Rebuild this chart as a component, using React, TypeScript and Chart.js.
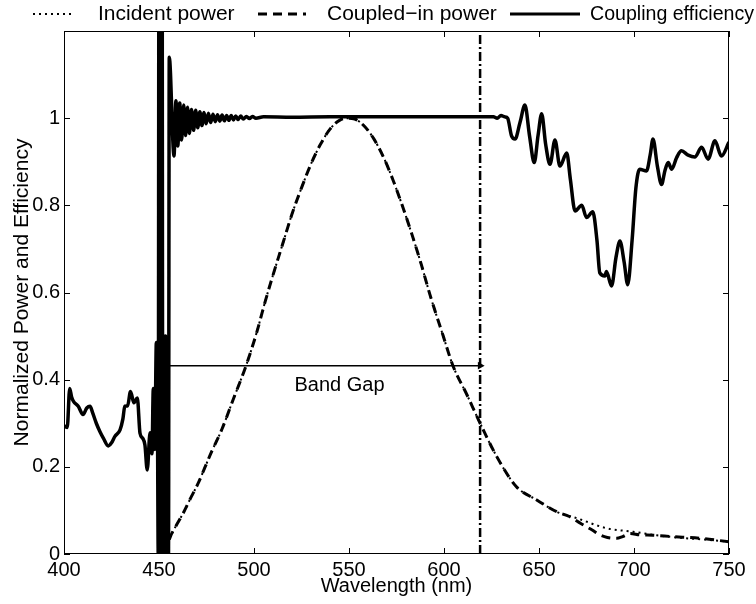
import React, { useEffect, useRef } from "react";
import { Chart, registerables } from "chart.js";

Chart.register(...registerables);

// ---------- axis settings ----------
const xMin = 400;
const xMax = 750;
const yMin = 0;
const yMax = 1.2;
const xTickValues = [400, 450, 500, 550, 600, 650, 700, 750];
const yTickValues = [0, 0.2, 0.4, 0.6, 0.8, 1];
const xTitle = "Wavelength (nm)";
const yTitle = "Normalized Power and Efficiency";

// ---------- legend ----------
const legendLabels = ["Incident power", "Coupled\u2212in power", "Coupling efficiency"];

// ---------- coupling efficiency (solid) ----------
const efficiencyWavelengths = [
  400, 400.5, 401.7, 403, 404, 405, 407.5, 410, 412, 413.7, 415, 417, 419, 420.7, 423.3, 425,
  426.8, 429.5, 431, 432, 433.5, 435, 436.8, 438.6, 440, 441.5, 442.6, 443.8, 445.3, 446.3,
  447, 447.8, 448.6, 449.2, 449.6, 450, 450.4, 450.8, 451.2, 451.6, 452, 452.5, 453, 453.5,
  454, 454.5, 455, 455.4, 457.9, 458.9, 459.9, 460.9, 461.9, 463, 464, 465, 466, 467.1, 468.2,
  469.3, 470.4, 471.5, 472.6, 473.7, 474.8, 476, 477.2, 478.4, 479.6, 480.8, 482, 483.2, 484.4,
  485.6, 486.8, 488, 489.2, 490.4, 491.6, 493, 494.4, 496, 497.6, 499.2, 501, 505, 520, 540,
  560, 580, 600, 620, 626, 628, 630, 632, 633.5, 635.5, 637.4, 640, 642.6, 645, 647.5, 649.5,
  651.4, 653.5, 655.8, 658.4, 661, 664.6, 666.5, 669, 672.5, 675, 678.3, 680.5, 682, 684.7,
  685.5, 688.2, 690.5, 692.6, 694.8, 696.7, 699, 701, 703, 706.6, 708.5, 710, 712.3, 714.5,
  716.3, 718, 719.8, 722.5, 725, 728.5, 732, 735.6, 739, 742.6, 746, 750,
];
const efficiencyValues = [
  0.29, 0.293, 0.29, 0.38, 0.36, 0.35, 0.339, 0.32, 0.335, 0.339, 0.325, 0.3, 0.28, 0.266, 0.248,
  0.255, 0.27, 0.285, 0.31, 0.339, 0.34, 0.373, 0.347, 0.358, 0.277, 0.265, 0.25, 0.193, 0.278,
  0.23, 0.38, 0.24, 0.485, 0.3, 0, 1.6, 0, 1.6, 0, 1.6, 0, 0.5, 0, 0.5, 0, 0.45, 0, 1.14, 0.913,
  1.04, 0.936, 1.035, 0.95, 1.03, 0.96, 1.025, 0.965, 1.02, 0.972, 1.018, 0.978, 1.015, 0.983,
  1.013, 0.987, 1.011, 0.99, 1.009, 0.992, 1.008, 0.993, 1.007, 0.994, 1.006, 0.995, 1.006,
  0.996, 1.005, 0.997, 1.005, 0.998, 1.004, 0.999, 1.004, 1.0, 1.003, 1.002, 1.003, 1.003, 1.003,
  1.003, 1.003, 1.003, 1.0, 1.006, 1.003, 1.0, 0.96, 0.952, 0.99, 1.03, 0.96, 0.898, 0.96, 1.01,
  0.94, 0.894, 0.95, 0.89, 0.92, 0.86, 0.787, 0.8, 0.772, 0.785, 0.72, 0.645, 0.638, 0.648,
  0.615, 0.68, 0.718, 0.67, 0.618, 0.72, 0.84, 0.883, 0.879, 0.915, 0.952, 0.89, 0.848, 0.88,
  0.898, 0.883, 0.91, 0.925, 0.915, 0.911, 0.933, 0.906, 0.948, 0.913, 0.945,
];

// ---------- incident power (dotted) ----------
const incidentWavelengths = [
  400, 420, 440, 450, 452, 454, 456, 459, 462.8, 466.5, 470.7, 474, 477.7, 483, 489, 495.8,
  501.4, 505.8, 510, 515, 520, 525, 530, 535, 540, 545, 549, 553, 558, 563, 568, 573, 578,
  583, 588, 592.6, 599.6, 604.7, 612, 619, 627.7, 638, 648.8, 659.3, 670, 685.6, 699.6, 712,
  725, 738, 750,
];
const incidentValues = [
  0, 0, 0, 0, 0.005, 0.022, 0.04, 0.065, 0.094, 0.127, 0.163, 0.197, 0.235, 0.285, 0.354,
  0.432, 0.508, 0.578, 0.64, 0.71, 0.78, 0.84, 0.895, 0.94, 0.975, 0.995, 1.0, 0.998, 0.982,
  0.953, 0.912, 0.86, 0.8, 0.735, 0.665, 0.595, 0.5, 0.432, 0.366, 0.3, 0.224, 0.155, 0.124,
  0.097, 0.082, 0.059, 0.051, 0.043, 0.037, 0.033, 0.028,
];

// ---------- coupled-in power (dashed) ----------
const coupledWavelengths = [
  453, 454.5, 456, 459, 462.8, 466.5, 470.7, 474, 477.7, 483, 489, 495.8, 501.4, 505.8, 510,
  515, 520, 525, 530, 535, 540, 545, 549, 553, 558, 563, 568, 573, 578, 583, 588, 592.6, 599.6,
  604.7, 612, 619, 627.7, 638, 648.8, 659.3, 666, 672, 678, 682, 686, 690.9, 694, 697.9, 703,
  710, 720, 735, 750,
];
const coupledValues = [
  0, 0.02, 0.04, 0.065, 0.094, 0.127, 0.163, 0.197, 0.235, 0.285, 0.354, 0.432, 0.508, 0.578,
  0.64, 0.71, 0.78, 0.84, 0.895, 0.94, 0.975, 0.995, 1.0, 0.998, 0.982, 0.953, 0.912, 0.86, 0.8,
  0.735, 0.665, 0.595, 0.5, 0.432, 0.366, 0.3, 0.224, 0.155, 0.124, 0.097, 0.086, 0.07, 0.055,
  0.044, 0.038, 0.036, 0.04, 0.047, 0.044, 0.043, 0.04, 0.036, 0.028,
];

// ---------- band gap annotation ----------
const bandEdgeWavelength = 619;
const bandEdgeRange = [0, 1.25];
const bandGapStart = 455.5;
const bandGapLevel = 0.432;
const bandGapLabel = "Band Gap";
const bandGapLabelX = 545;
const bandGapLabelY = 0.386;

const FONT = '"Liberation Sans", Arial, Helvetica, sans-serif';

const pts = (xs: number[], ys: number[]) => xs.map((x, i) => ({ x, y: ys[i] }));

const decorPlugin = {
  id: "decor",
  afterDatasetsDraw(chart: any) {
    const { ctx, chartArea, scales } = chart;
    const { left, right, top, bottom } = chartArea;
    const xs = scales.x;
    const ys = scales.y;
    ctx.save();
    ctx.strokeStyle = "#000";
    ctx.fillStyle = "#000";
    ctx.lineWidth = 1;
    ctx.setLineDash([]);
    // frame
    ctx.strokeRect(Math.round(left) + 0.5, Math.round(top) + 0.5, Math.round(right - left) - 1, Math.round(bottom - top) - 1);
    // inward ticks
    const tl = 6;
    ctx.beginPath();
    xTickValues.forEach((v) => {
      const px = Math.round(xs.getPixelForValue(v)) + 0.5;
      ctx.moveTo(px, bottom);
      ctx.lineTo(px, bottom - tl);
      ctx.moveTo(px, top);
      ctx.lineTo(px, top + tl);
    });
    yTickValues.forEach((v) => {
      const py = Math.round(ys.getPixelForValue(v)) + 0.5;
      ctx.moveTo(left, py);
      ctx.lineTo(left + tl, py);
      ctx.moveTo(right, py);
      ctx.lineTo(right - tl, py);
    });
    ctx.stroke();
    // band gap label
    ctx.font = `20px ${FONT}`;
    ctx.textAlign = "center";
    ctx.textBaseline = "middle";
    ctx.fillText(bandGapLabel, xs.getPixelForValue(bandGapLabelX), ys.getPixelForValue(bandGapLabelY));
    ctx.restore();
  },
  afterDraw(chart: any) {
    const { ctx } = chart;
    ctx.save();
    const ly = 14;
    ctx.strokeStyle = "#000";
    ctx.fillStyle = "#000";
    ctx.font = `21px ${FONT}`;
    ctx.textAlign = "left";
    ctx.textBaseline = "middle";
    // incident sample (dotted)
    ctx.lineWidth = 2;
    ctx.setLineDash([2, 4]);
    ctx.beginPath();
    ctx.moveTo(33, ly);
    ctx.lineTo(75, ly);
    ctx.stroke();
    ctx.fillText(legendLabels[0], 98, ly);
    // coupled sample (dashed)
    ctx.lineWidth = 3;
    ctx.setLineDash([9, 6]);
    ctx.beginPath();
    ctx.moveTo(258, ly);
    ctx.lineTo(306, ly);
    ctx.stroke();
    ctx.fillText(legendLabels[1], 327, ly);
    // efficiency sample (solid)
    ctx.setLineDash([]);
    ctx.beginPath();
    ctx.moveTo(510, ly);
    ctx.lineTo(580, ly);
    ctx.stroke();
    ctx.fillText(legendLabels[2], 590, ly, 164);
    ctx.restore();
  },
};

export default function App() {
  const canvasRef = useRef<HTMLCanvasElement | null>(null);

  useEffect(() => {
    if (!canvasRef.current) return;
    const chart = new Chart(canvasRef.current, {
      type: "line",
      data: {
        datasets: [
          {
            label: legendLabels[2],
            data: pts(efficiencyWavelengths, efficiencyValues),
            borderColor: "#000",
            borderWidth: 3.5,
            pointRadius: 0,
            cubicInterpolationMode: "monotone",
            fill: false,
          },
          {
            label: legendLabels[1],
            data: pts(coupledWavelengths, coupledValues),
            borderColor: "#000",
            borderWidth: 3,
            borderDash: [9, 6],
            pointRadius: 0,
            cubicInterpolationMode: "monotone",
            fill: false,
          },
          {
            label: legendLabels[0],
            data: pts(incidentWavelengths, incidentValues),
            borderColor: "#000",
            borderWidth: 2,
            borderDash: [2, 4],
            pointRadius: 0,
            cubicInterpolationMode: "monotone",
            fill: false,
          },
          {
            label: "band edge",
            data: bandEdgeRange.map((v) => ({ x: bandEdgeWavelength, y: v })),
            borderColor: "#000",
            borderWidth: 2.5,
            borderDash: [9, 3, 2, 3],
            pointRadius: 0,
            fill: false,
          },
          {
            label: "band gap",
            data: [
              { x: bandGapStart, y: bandGapLevel },
              { x: bandEdgeWavelength, y: bandGapLevel },
            ],
            borderColor: "#000",
            borderWidth: 1.5,
            pointRadius: [0, 4.5],
            pointStyle: "triangle",
            rotation: 90,
            pointBackgroundColor: "#000",
            pointBorderColor: "#000",
            pointBorderWidth: 0,
            fill: false,
          },
        ],
      },
      options: {
        animation: false,
        responsive: false,
        events: [],
        layout: { padding: { top: 31, right: 27, left: 0, bottom: 0 } },
        plugins: {
          legend: { display: false },
          tooltip: { enabled: false },
        },
        scales: {
          x: {
            type: "linear",
            min: xMin,
            max: xMax,
            grid: { display: false, drawTicks: false },
            border: { display: false },
            afterBuildTicks: (s: any) => {
              s.ticks = xTickValues.map((v) => ({ value: v }));
            },
            afterFit: (s: any) => {
              s.height = 50;
            },
            ticks: {
              color: "#000",
              font: { family: FONT, size: 20 },
              padding: 4,
              maxRotation: 0,
              callback: (v: any) => String(v),
            },
            title: {
              display: true,
              text: xTitle,
              color: "#000",
              font: { family: FONT, size: 20 },
              padding: { top: 0, bottom: 6 },
            },
          },
          y: {
            type: "linear",
            min: yMin,
            max: yMax,
            grid: { display: false, drawTicks: false },
            border: { display: false },
            afterBuildTicks: (s: any) => {
              s.ticks = yTickValues.map((v) => ({ value: v }));
            },
            afterFit: (s: any) => {
              s.width = 64;
            },
            ticks: {
              color: "#000",
              font: { family: FONT, size: 20 },
              padding: 4,
              callback: (v: any) => String(Math.round(Number(v) * 10) / 10),
            },
            title: {
              display: true,
              text: yTitle,
              color: "#000",
              font: { family: FONT, size: 21 },
              padding: { top: 10, bottom: 0 },
            },
          },
        },
      },
      plugins: [decorPlugin],
    } as any);
    return () => chart.destroy();
  }, []);

  return (
    <div style={{ position: "fixed", left: 0, top: 0, width: 756, height: 604, background: "#fff" }}>
      <canvas ref={canvasRef} width={756} height={604} style={{ display: "block" }} />
    </div>
  );
}
